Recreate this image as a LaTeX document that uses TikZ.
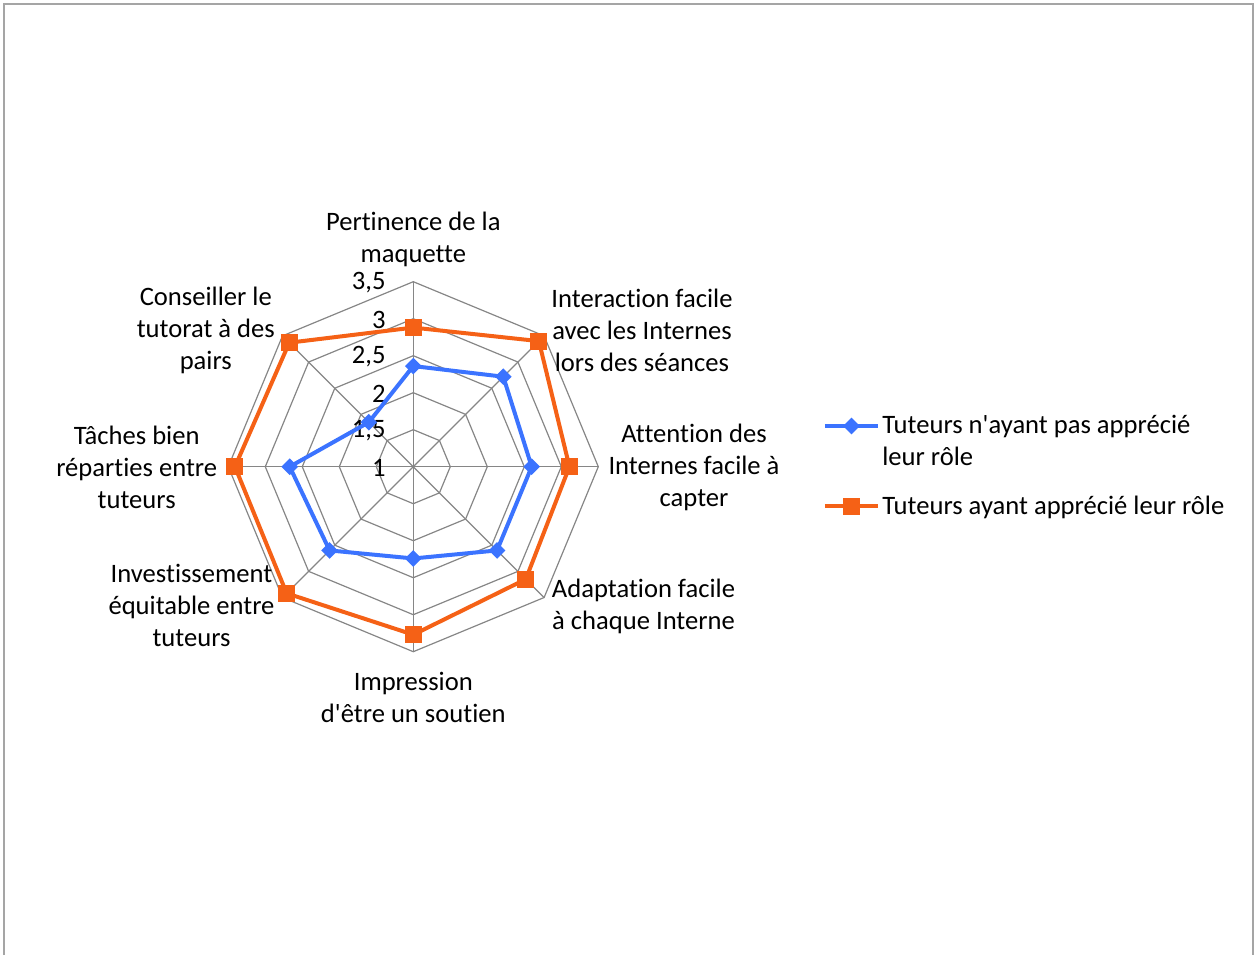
\documentclass[tikz,border=0pt]{standalone}
\usepackage{fontspec}
\newfontfamily\chartfont{Carlito}[Ligatures={NoCommon}]
\usepackage{xcolor}
\usepackage{tikz}
\usetikzlibrary{positioning, calc, shapes.geometric}

\definecolor{seriesblue}{RGB}{59,115,255}
\definecolor{seriesorange}{RGB}{245,97,22}
\definecolor{gridgray}{RGB}{134,134,134}
\definecolor{framegray}{RGB}{165,165,165}

\tikzset{
	charttext/.style={inner sep=0pt, font=\chartfont\fontsize{13.3}{16}\selectfont},
	axislabel/.style={charttext, align=center},
	gridline/.style={gridgray, line width=0.6pt},
	blueline/.style={seriesblue, line width=2pt, line join=round},
	orangeline/.style={seriesorange, line width=2pt, line join=round},
	bluemark/.style={diamond, fill=seriesblue, inner sep=0pt, minimum size=8.5pt},
	orangemark/.style={rectangle, fill=seriesorange, inner sep=0pt, minimum size=8.5pt}
}

\begin{document}
\begin{tikzpicture}[x=0.5pt, y=0.5pt]
		\useasboundingbox (-413.3,-488.3) rectangle (841.7,466.7);
		
		% Frame
		\draw[framegray, line width=1pt] (-408.8,-488.3) -- (-408.8,463.2) -- (839.2,463.2) -- (839.2,-488.3);
		
		% Rings and spokes (one ring = 0.5)
		\foreach \r in {37,74,111,148,185}
		\draw[gridline] (0:\r) \foreach \a in {45,90,...,315} { -- (\a:\r) } -- cycle;
		\foreach \a in {0,45,...,315}
		\draw[gridline] (0,0) -- (\a:185);
		
		% Scale
		\foreach \v [count=\i from 0] in {1,{1,5},2,{2,5},3,{3,5}}
		\node[charttext, anchor=east] (tick\i) at (-27.3,{\i*37-1}) {\v};
		
		% Categories
		\node[axislabel] (pertinence) at (0,227.7) {Pertinence de la\\maquette};
		\node[axislabel] (interaction) at (228.7,136.7) {Interaction facile\\avec les Internes\\lors des séances};
		\node[axislabel] (attention) at (280.7,-1) {Attention des\\Internes facile à\\capter};
		\node[axislabel] (adaptation) at (230.2,-139.3) {Adaptation facile\\à chaque Interne};
		\node[axislabel] (impression) at (0,-230.3) {Impression\\d'être un soutien};
		\node[axislabel] (investissement) at (-221.8,-138.3) {Investissement\\équitable entre\\tuteurs};
		\node[axislabel] (taches) at (-276.6,-1) {Tâches bien\\réparties entre\\tuteurs};
		\node[axislabel] (conseiller) at (-207.5,136.7) {Conseiller le\\tutorat à des\\pairs};
		
		% Data points
		\foreach \v [count=\i] in {2.36,2.72,2.6,2.6,2.24,2.6,2.67,1.85}
		\coordinate (b\i) at ({135-\i*45}:{(\v-1)*74});
		\foreach \v [count=\i] in {2.88,3.4,3.11,3.15,3.27,3.42,3.41,3.37}
		\coordinate (o\i) at ({135-\i*45}:{(\v-1)*74});
		
		% Series
		\draw[blueline] (b1) -- (b2) -- (b3) -- (b4) -- (b5) -- (b6) -- (b7) -- (b8) -- cycle;
		\draw[orangeline] (o1) -- (o2) -- (o3) -- (o4) -- (o5) -- (o6) -- (o7) -- (o8) -- cycle;
		\foreach \i in {1,...,8} {
			\node[bluemark] (bm\i) at (b\i) {};
			\node[orangemark] (om\i) at (o\i) {};
		}
		
		% Legend
		\coordinate (bleft) at (411.7,40.7);
		\coordinate (bright) at (464.7,40.7);
		\draw[blueline] (bleft) -- (bright);
		\node[bluemark] (bkey) at ($(bleft)!0.5!(bright)$) {};
		\node[charttext, align=left, anchor=north west] (btext) at (468.7,52.2) {Tuteurs n'ayant pas apprécié\\leur rôle};
		
		\coordinate (oleft) at (411.7,-39.3);
		\coordinate (oright) at (464.7,-39.3);
		\draw[orangeline] (oleft) -- (oright);
		\node[orangemark] (okey) at ($(oleft)!0.5!(oright)$) {};
		\node[charttext, anchor=west] (otext) at (468.7,-40.3) {Tuteurs ayant apprécié leur rôle};
	\end{tikzpicture}
\end{document}
